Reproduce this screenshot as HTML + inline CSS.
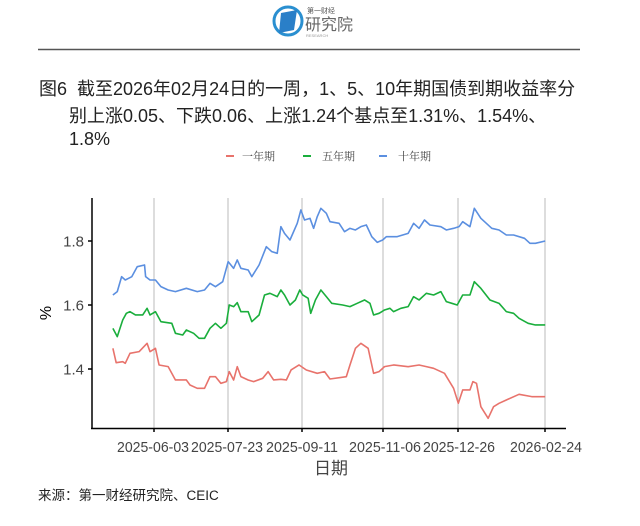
<!DOCTYPE html>
<html><head><meta charset="utf-8"><style>
body{margin:0;width:640px;height:526px;background:#fff;overflow:hidden;position:relative;font-family:"Liberation Sans","Noto Sans CJK SC",sans-serif}
.t{position:absolute;font-size:18px;color:#222;white-space:nowrap}
</style></head><body>
<svg width="640" height="526" style="position:absolute;left:0;top:0">
<circle cx="288" cy="21" r="14" fill="none" stroke="#2a8fd0" stroke-width="3"/>
<polygon points="281,13 297,10 294,30 279,33" fill="#2a7fc8"/>
<text x="307" y="13" font-size="7" fill="#555" font-family="Liberation Sans,Noto Sans CJK SC,sans-serif">第一财经</text>
<text x="305" y="30" font-size="16" fill="#666" font-family="Liberation Sans,Noto Sans CJK SC,sans-serif">研究院</text>
<text x="306" y="37" font-size="4" fill="#999">RESEARCH</text>
<line x1="38" y1="49.5" x2="580" y2="49.5" stroke="#555" stroke-width="1.5"/>
<g font-family="Liberation Serif,Noto Serif CJK SC,serif" font-size="11" fill="#444">
<line x1="226" y1="156" x2="234" y2="156" stroke="#e8736c" stroke-width="2"/><text x="242" y="160">一年期</text>
<line x1="303" y1="156" x2="311" y2="156" stroke="#1aae3c" stroke-width="2"/><text x="322" y="160">五年期</text>
<line x1="379" y1="156" x2="387" y2="156" stroke="#5b8fe0" stroke-width="2"/><text x="398" y="160">十年期</text>
</g>
<g stroke="#bbb" stroke-width="1">
<line x1="154" y1="198" x2="154" y2="428"/><line x1="228" y1="198" x2="228" y2="428"/><line x1="302" y1="198" x2="302" y2="428"/><line x1="383" y1="198" x2="383" y2="428"/><line x1="458" y1="198" x2="458" y2="428"/><line x1="545" y1="198" x2="545" y2="428"/>
</g>
<g stroke="#000" stroke-width="1.5" fill="none">
<line x1="92" y1="198" x2="92" y2="428.5"/><line x1="91" y1="428.5" x2="566" y2="428.5"/>
<line x1="88" y1="241" x2="92" y2="241"/><line x1="88" y1="305" x2="92" y2="305"/><line x1="88" y1="369" x2="92" y2="369"/>
<line x1="154" y1="428" x2="154" y2="432"/><line x1="228" y1="428" x2="228" y2="432"/><line x1="302" y1="428" x2="302" y2="432"/><line x1="383" y1="428" x2="383" y2="432"/><line x1="458" y1="428" x2="458" y2="432"/><line x1="545" y1="428" x2="545" y2="432"/>
</g>
<g font-size="15" fill="#444" font-family="Liberation Sans,sans-serif">
<text x="84" y="246.5" text-anchor="end">1.8</text><text x="84" y="310.5" text-anchor="end">1.6</text><text x="84" y="374.5" text-anchor="end">1.4</text>
<g font-size="14.5" lengthAdjust="spacingAndGlyphs">
<text x="117" y="452" textLength="72" lengthAdjust="spacingAndGlyphs">2025-06-03</text>
<text x="191" y="452" textLength="72" lengthAdjust="spacingAndGlyphs">2025-07-23</text>
<text x="266" y="452" textLength="72" lengthAdjust="spacingAndGlyphs">2025-09-11</text>
<text x="349" y="452" textLength="72" lengthAdjust="spacingAndGlyphs">2025-11-06</text>
<text x="423" y="452" textLength="72" lengthAdjust="spacingAndGlyphs">2025-12-26</text>
<text x="510" y="452" textLength="72" lengthAdjust="spacingAndGlyphs">2026-02-24</text></g>
</g>
<text x="331" y="474" font-size="17" fill="#444" text-anchor="middle" font-family="Liberation Sans,Noto Sans CJK SC,sans-serif">日期</text>
<text transform="translate(51,313) rotate(-90)" font-size="16" fill="#000" text-anchor="middle">%</text>
<g transform="translate(30,180) scale(0.3636,0.3333)" fill="none" stroke-width="1.6" stroke-linejoin="round">
<polyline vector-effect="non-scaling-stroke" stroke="#5b8fe0" points="228,345 240,335 252,290 262,300 280,290 295,260 315,255 318,290 330,300 345,300 360,320 380,330 400,335 430,325 460,335 480,330 495,310 510,320 530,305 545,245 560,265 570,240 580,265 600,270 610,290 630,255 650,200 665,215 680,220 690,140 700,160 715,180 735,130 745,90 755,120 770,115 780,145 790,110 800,85 815,100 825,125 850,130 865,155 880,145 895,150 910,140 925,135 940,170 955,187 970,180 980,170 1010,170 1040,160 1055,130 1070,145 1085,120 1100,135 1130,140 1145,150 1165,145 1180,140 1190,125 1210,140 1222,85 1240,115 1270,145 1290,150 1310,165 1330,165 1360,175 1375,190 1390,190 1417,183"/>
<polyline vector-effect="non-scaling-stroke" stroke="#1aae3c" points="228,445 240,470 255,420 265,400 275,395 290,405 310,405 322,385 330,405 345,395 360,425 390,430 400,460 420,465 430,450 450,460 465,475 480,475 495,445 510,430 525,445 540,430 548,375 560,380 570,368 580,395 600,395 610,425 630,405 645,345 660,340 680,350 690,330 700,345 715,375 730,360 742,330 750,345 765,355 772,400 785,360 800,330 815,350 830,370 860,375 880,380 900,370 920,360 935,370 945,405 960,400 975,390 990,385 1000,395 1020,385 1040,380 1055,350 1070,360 1090,340 1110,345 1130,335 1145,365 1160,370 1175,375 1190,345 1210,345 1222,305 1240,325 1265,360 1290,370 1310,395 1330,400 1345,415 1370,430 1390,435 1417,435"/>
<polyline vector-effect="non-scaling-stroke" stroke="#e8736c" points="228,505 237,548 255,545 262,550 275,520 300,515 322,490 330,515 345,505 355,555 380,560 400,600 430,600 440,615 460,625 480,625 495,590 510,590 525,610 540,605 548,575 560,600 570,560 580,590 600,600 615,605 640,595 655,575 670,600 690,598 705,600 718,570 740,555 760,570 790,580 810,575 825,597 870,590 880,555 895,505 910,490 930,505 945,580 960,575 975,560 1000,555 1040,560 1070,555 1090,560 1110,565 1140,580 1165,625 1178,670 1190,630 1210,630 1218,605 1228,610 1240,680 1260,715 1275,680 1290,670 1310,660 1345,643 1380,650 1417,650"/>
</g>
</svg>
<div class="t" style="left:39px;top:75px">图6&nbsp; 截至2026年02月24日的一周，1、5、10年期国债到期收益率分</div>
<div class="t" style="left:69px;top:102px">别上涨0.05、下跌0.06、上涨1.24个基点至1.31%、1.54%、</div>
<div class="t" style="left:69px;top:129px">1.8%</div>
<div class="t" style="left:38px;top:484px;font-size:13.5px">来源：第一财经研究院、CEIC</div>
</body></html>
